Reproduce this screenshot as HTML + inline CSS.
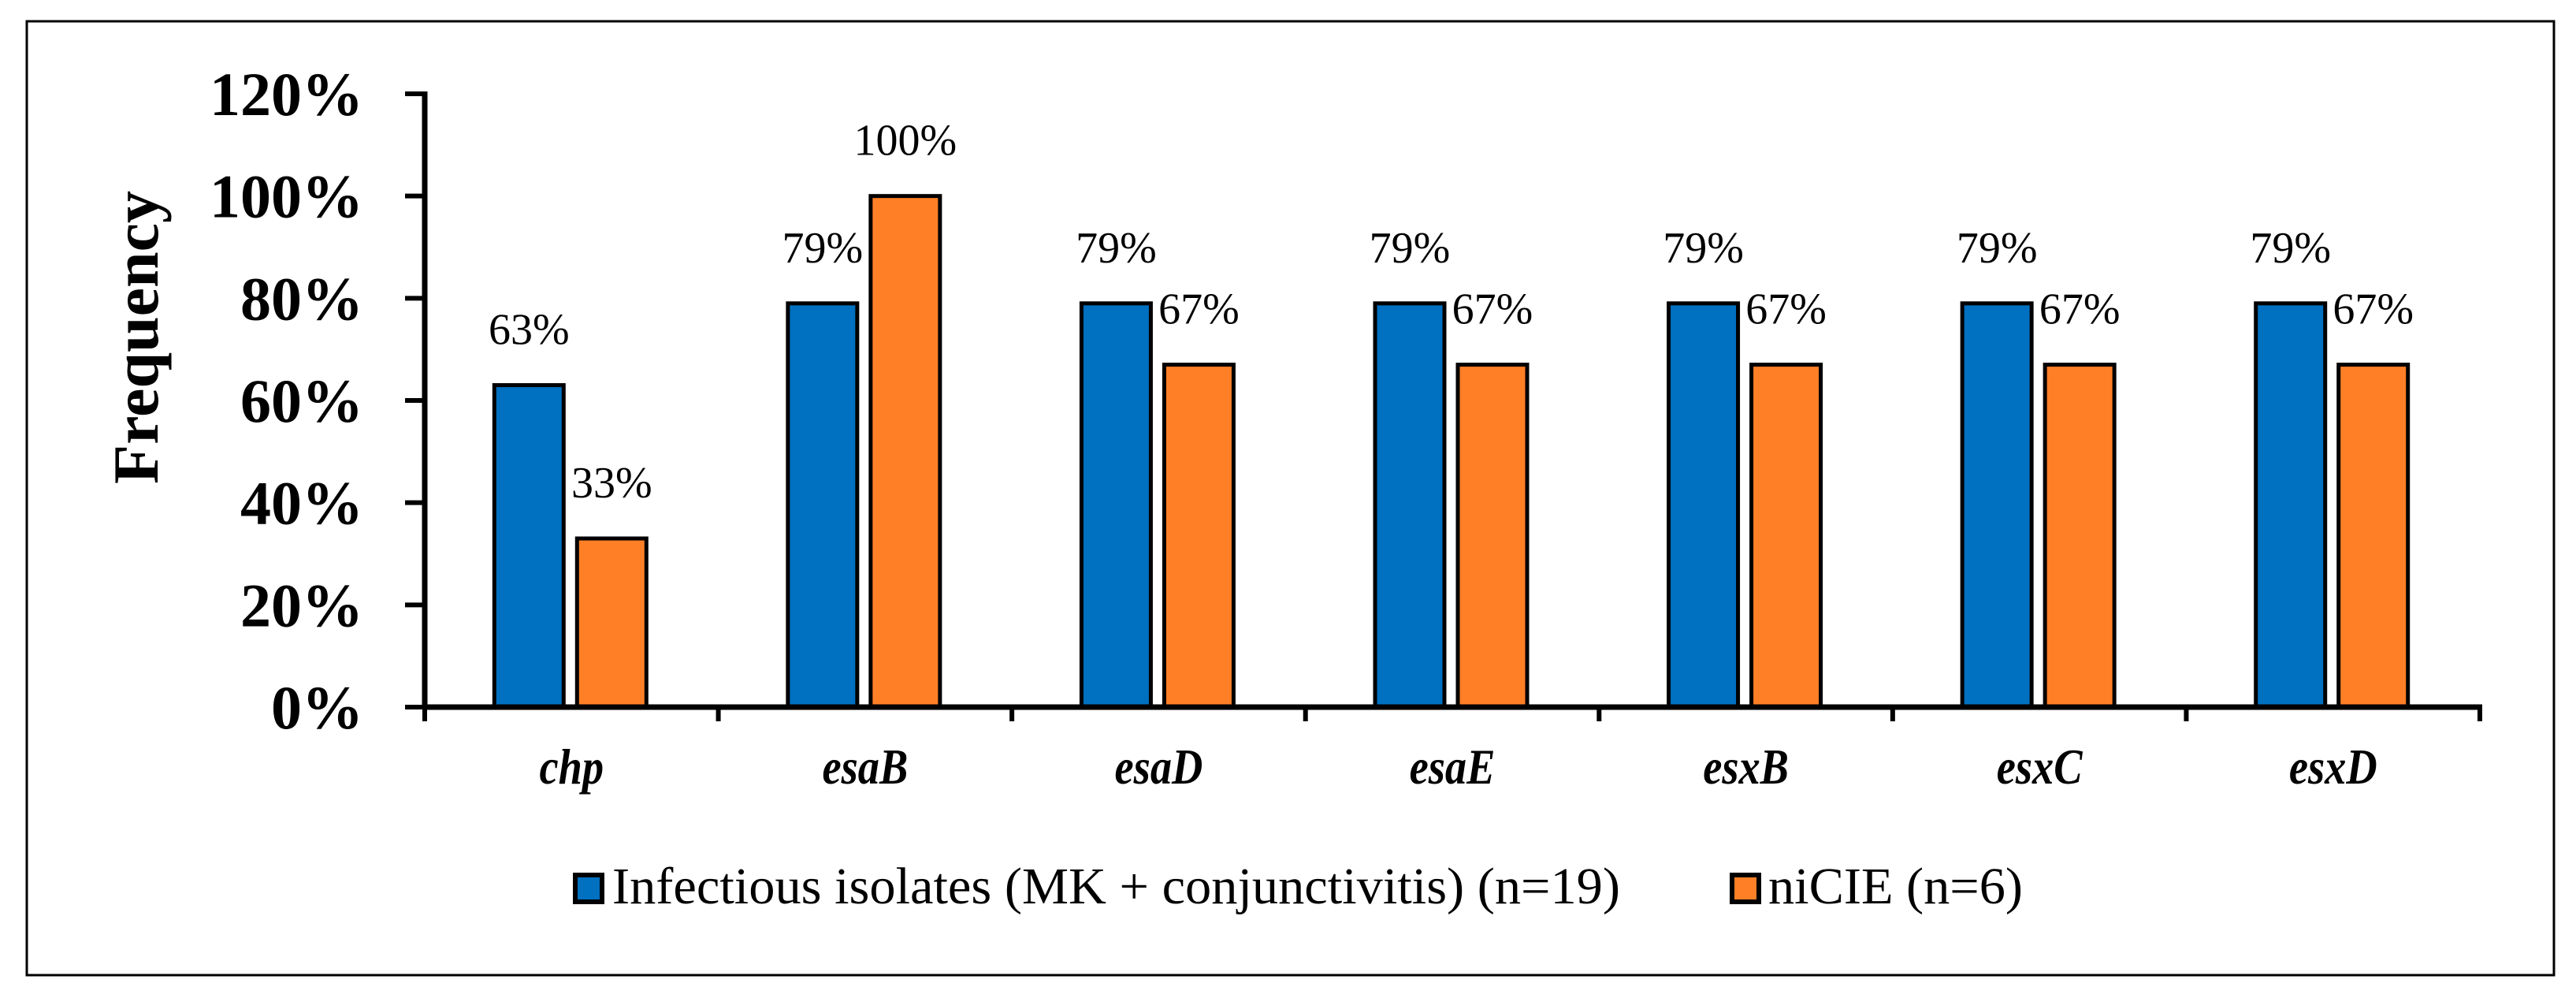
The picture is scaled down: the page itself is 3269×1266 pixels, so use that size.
<!DOCTYPE html>
<html><head><meta charset="utf-8"><style>
html,body{margin:0;padding:0;background:#fff;}
svg{display:block;}
text{font-family:"Liberation Serif","Times New Roman",serif;}
</style></head><body>
<svg id="chart" width="3269" height="1266" viewBox="0 0 3269 1266" xmlns="http://www.w3.org/2000/svg">
<rect x="34" y="27" width="3207" height="1210" fill="#fff" stroke="#000" stroke-width="3"/>
<g id="plot"></g>
<text transform="translate(200,428) rotate(-90)" text-anchor="middle" font-size="82" font-weight="bold">Frequency</text>
<g>
<rect x="730" y="1110" width="34" height="34" fill="#0070C0" stroke="#000" stroke-width="6"/>
<text x="777" y="1146" font-size="66" textLength="1279" lengthAdjust="spacingAndGlyphs">Infectious isolates (MK + conjunctivitis) (n=19)</text>
<rect x="2198" y="1110" width="34" height="34" fill="#FF7F27" stroke="#000" stroke-width="6"/>
<text x="2244" y="1146" font-size="66" textLength="323" lengthAdjust="spacingAndGlyphs">niCIE (n=6)</text>
</g>
</svg>
<script>
const categories = ["chp","esaB","esaD","esaE","esxB","esxC","esxD"];
const infectious = [63,79,79,79,79,79,79];
const nicie = [33,100,67,67,67,67,67];
const yTicks = [0,20,40,60,80,100,120];

const NS = "http://www.w3.org/2000/svg";
const g = document.getElementById('plot');
const x0 = 539, x1 = 3147, y0 = 897, yTop = 119, yMax = 120;
const band = (x1 - x0) / categories.length;
function yScale(v){ return y0 - (v / yMax) * (y0 - yTop); }
function xCenter(i){ return x0 + band * (i + 0.5); }
function mk(tag, attrs){ const e = document.createElementNS(NS, tag); for (const k in attrs) e.setAttribute(k, attrs[k]); g.appendChild(e); return e; }

yTicks.forEach(function(t){
  const y = yScale(t);
  const tk = mk('line', {x1: 514, x2: x0, y1: y, y2: y, stroke: '#000', 'stroke-width': 6});
  
  
  const lb = mk('text', {x: 461, y: y + 27, 'text-anchor': 'end', 'font-size': 78, 'font-weight': 'bold'});
  lb.textContent = t + '%';
  
  
});

function bar(i, v, color, left, name){
  const cx = xCenter(i);
  const bx = cx + left, w = 88;
  const r = mk('rect', {x: bx, y: yScale(v), width: w, height: y0 - yScale(v), fill: color, stroke: '#000', 'stroke-width': 5});
  
  
  const t = mk('text', {x: bx + w / 2, y: yScale(v) - 52, 'text-anchor': 'middle', 'font-size': 56});
  t.textContent = v + '%';
  
  
}

categories.forEach(function(c, i){
  bar(i, infectious[i], '#0070C0', -98, 'infectious');
  bar(i, nicie[i], '#FF7F27', 7, 'nicie');
  const cx = xCenter(i);
  const cl = mk('text', {x: 0, y: 0, 'text-anchor': 'middle', 'font-size': 64, 'font-weight': 'bold', 'font-style': 'italic', transform: 'translate(' + cx + ',994) scale(0.85,1)'});
  cl.textContent = c;
  
  
});

for (let i = 0; i <= categories.length; i++) {
  const x = x0 + band * i;
  const tk = mk('line', {x1: x, x2: x, y1: y0, y2: 915, stroke: '#000', 'stroke-width': 6});
  
  
}
const ya = mk('line', {x1: x0, x2: x0, y1: yTop - 3, y2: y0 + 3, stroke: '#000', 'stroke-width': 7});


const xa = mk('line', {x1: x0 - 3, x2: x1 + 3, y1: y0, y2: y0, stroke: '#000', 'stroke-width': 7});


</script>
</body></html>
